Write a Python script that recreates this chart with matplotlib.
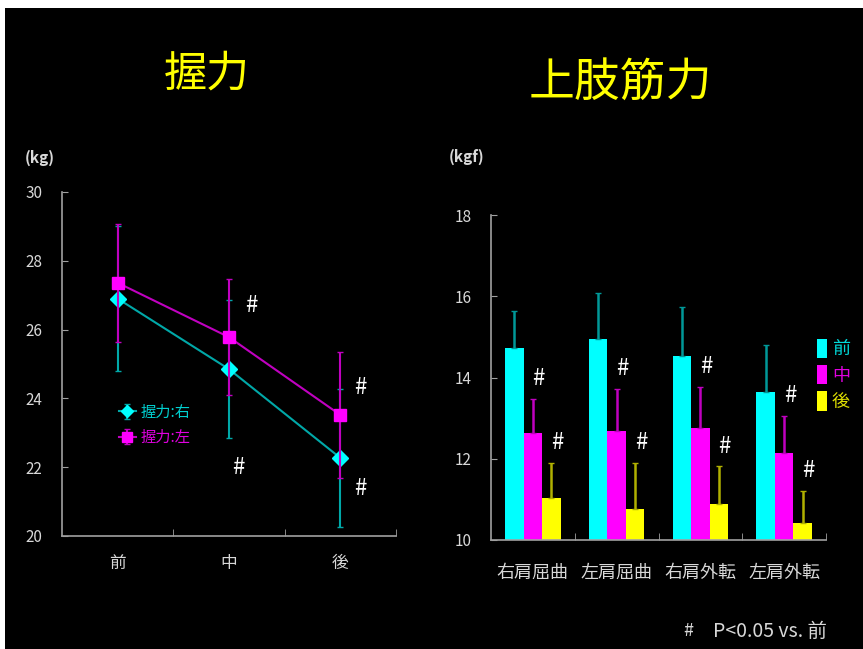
import numpy as np
import matplotlib
matplotlib.use("Agg")
from matplotlib import pyplot as plt
from matplotlib.patches import Rectangle

plt.rcParams['font.family'] = ['Noto Sans CJK JP', 'DejaVu Sans']

# --- 握力 (左グラフ) ---
times = ['前', '中', '後']
grip_right = [26.9, 24.85, 22.27]
grip_right_sd = [2.1, 2.0, 2.0]
grip_left = [27.36, 25.78, 23.52]
grip_left_sd = [1.71, 1.69, 1.83]
# "#" 印の位置 (x, y)
grip_marks = [(1.2, 26.7), (1.08, 21.98), (2.18, 24.33), (2.18, 21.37)]

# --- 上肢筋力 (右グラフ) ---
movements = ['右肩屈曲', '左肩屈曲', '右肩外転', '左肩外転']
pre = [14.72, 14.94, 14.53, 13.64]
pre_sd = [0.92, 1.14, 1.2, 1.17]
mid = [12.63, 12.69, 12.75, 12.14]
mid_sd = [0.84, 1.02, 1.01, 0.91]
post = [11.03, 10.76, 10.89, 10.43]
post_sd = [0.86, 1.13, 0.92, 0.78]

W, H = 863, 649
fig = plt.figure(figsize=(W / 100, H / 100), dpi=100)
fig.patch.set_facecolor('white')
fig.add_artist(Rectangle((5 / W, 0), 1, 1 - 8 / H, transform=fig.transFigure,
                         facecolor='black', edgecolor='none', zorder=-10))

axis_col = '#a0a0a0'
txt_col = '#d8d8d8'


def style_axes(ax):
    ax.set_facecolor('black')
    ax.patch.set_alpha(0)
    for s in ['top', 'right']:
        ax.spines[s].set_visible(False)
    for s in ['left', 'bottom']:
        ax.spines[s].set_color(axis_col)
        ax.spines[s].set_linewidth(1.2)
    ax.tick_params(axis='y', direction='in', length=4, color=axis_col,
                   labelcolor=txt_col, labelsize=11, pad=14)
    ax.tick_params(axis='x', which='major', length=0, labelcolor=txt_col)
    ax.tick_params(axis='x', which='minor', direction='in', length=5, color=axis_col)


# 左グラフ
ax1 = fig.add_axes([62 / W, 1 - 536 / H, 334 / W, 344 / H])
style_axes(ax1)
x = np.arange(len(times))
ax1.errorbar(x, grip_right, yerr=grip_right_sd, color='#00a8a8', lw=1.5,
             ecolor='#00a8a8', elinewidth=1.5, capsize=2,
             marker='D', markersize=8, markerfacecolor='#00ffff',
             markeredgecolor='#00ffff', label='握力:右', zorder=3)
ax1.errorbar(x, grip_left, yerr=grip_left_sd, color='#c000c0', lw=1.5,
             ecolor='#c000c0', elinewidth=1.5, capsize=2,
             marker='s', markersize=9, markerfacecolor='#ff00ff',
             markeredgecolor='#ff00ff', label='握力:左', zorder=4)
ax1.set_xlim(-0.5, 2.5)
ax1.set_ylim(20, 30)
ax1.set_yticks(np.arange(20, 31, 2))
ax1.set_xticks(x)
ax1.set_xticklabels(times, fontsize=12)
ax1.set_xticks([0.5, 1.5, 2.5], minor=True)
ax1.tick_params(axis='x', which='major', pad=14)
for mx, my in grip_marks:
    ax1.text(mx, my, '#', color='white', fontsize=16, ha='center', va='center')
leg1 = ax1.legend(loc='upper left', bbox_to_anchor=(0.17, 0.385), frameon=False,
                  handlelength=1.1, handletextpad=0.3, labelspacing=0.55,
                  fontsize=11, markerscale=0.8, borderaxespad=0, borderpad=0)
for t, c in zip(leg1.get_texts(), ['#00d0d0', '#e000e0']):
    t.set_color(c)

# 右グラフ
ax2 = fig.add_axes([491 / W, 1 - 540 / H, 335 / W, 325 / H])
style_axes(ax2)
g = np.arange(len(movements))
bw = 0.22
series = [(pre, pre_sd, '#00ffff', '#009898', '前'),
          (mid, mid_sd, '#ff00ff', '#c000c0', '中'),
          (post, post_sd, '#ffff00', '#b0b000', '後')]
for i, (vals, sd, fc, ec, lab) in enumerate(series):
    xs = g + (i - 1) * bw
    ax2.bar(xs, np.array(vals) - 10, bottom=10, width=bw, color=fc, label=lab, zorder=2)
    ax2.errorbar(xs, vals, yerr=[np.zeros(len(sd)), sd], fmt='none', ecolor=ec,
                 elinewidth=1.8, capsize=2, zorder=3)
    if i > 0:
        for xx, v, s in zip(xs, vals, sd):
            ax2.text(xx + 0.07, v + s + 0.5, '#', color='white', fontsize=16,
                     ha='center', va='center')
ax2.set_xlim(-0.5, 3.5)
ax2.set_ylim(10, 18)
ax2.set_yticks(np.arange(10, 19, 2))
ax2.set_xticks(g)
ax2.set_xticklabels(movements, fontsize=13)
ax2.set_xticks([0.5, 1.5, 2.5, 3.5], minor=True)
ax2.tick_params(axis='x', which='major', pad=17)
leg2 = ax2.legend(loc='upper left', bbox_to_anchor=(0.972, 0.62), frameon=False,
                  handlelength=0.6, handleheight=1.3, handletextpad=0.25,
                  labelspacing=0.35, fontsize=13, borderaxespad=0, borderpad=0)
for t, c in zip(leg2.get_texts(), ['#00d8d8', '#e000e0', '#e0e000']):
    t.set_color(c)

# タイトル・単位
fig.text(207 / W, 1 - 75 / H, '握力', color='#ffff00', fontsize=31, ha='center', va='center')
fig.text(620 / W, 1 - 82 / H, '上肢筋力', color='#ffff00', fontsize=33, ha='center', va='center')
fig.text(40 / W, 1 - 158 / H, '(kg)', color=txt_col, fontsize=11, ha='center', va='center',
         fontweight='bold')
fig.text(467 / W, 1 - 157 / H, '(kgf)', color=txt_col, fontsize=11, ha='center', va='center',
         fontweight='bold')
fig.text(683 / W, 1 - 631 / H, '#', color=txt_col, fontsize=13, ha='left', va='center')
fig.text(713 / W, 1 - 631 / H, 'P<0.05 vs. 前', color=txt_col, fontsize=14,
         ha='left', va='center')

fig.savefig('out.png', dpi=100, facecolor=fig.get_facecolor())
